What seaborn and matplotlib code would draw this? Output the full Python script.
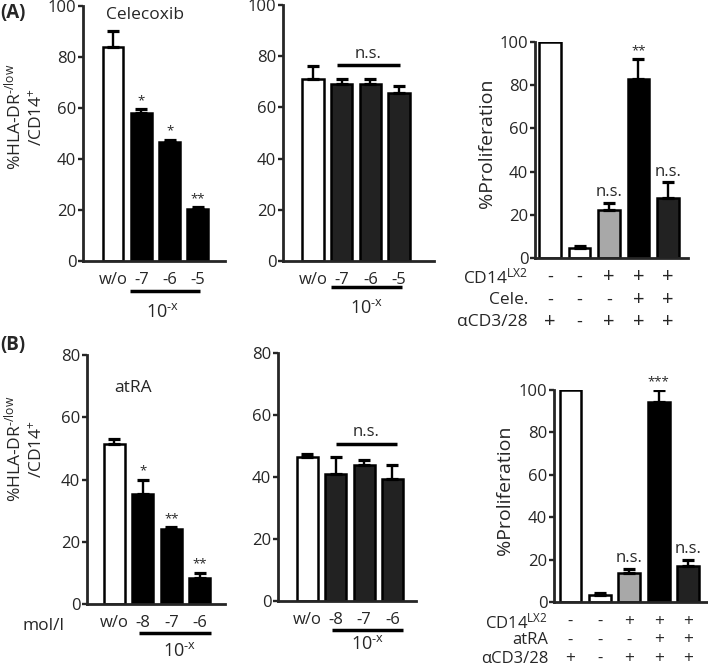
import numpy as np
import pandas as pd
import matplotlib
matplotlib.use("Agg")
import matplotlib.pyplot as plt
import matplotlib.transforms as mtransforms
import seaborn as sns

# ---------------- data ----------------
cele_labels = ["w/o", "-7", "-6", "-5"]
cele_mean = [84, 58, 46.5, 20.5]
cele_err = [6, 1.5, 1.0, 0.6]
cele_sig = ["", "*", "*", "**"]

cele_ctrl_mean = [71, 69, 69, 65.5]
cele_ctrl_err = [5, 2, 2, 3]

prolif_ids = ["c1", "c2", "c3", "c4", "c5"]
cele_prolif_mean = [100, 4.5, 22, 83, 28]
cele_prolif_err = [0, 1.0, 3.5, 9, 7]
cele_prolif_sig = ["", "", "n.s.", "**", "n.s."]

atra_labels = ["w/o", "-8", "-7", "-6"]
atra_mean = [51.5, 35.5, 24, 8.5]
atra_err = [1.5, 4.5, 0.6, 1.5]
atra_sig = ["", "*", "**", "**"]

atra_ctrl_mean = [46.5, 41, 44, 39.5]
atra_ctrl_err = [1.0, 5.5, 1.5, 4.5]

atra_prolif_mean = [100, 3.5, 13.5, 94.5, 17]
atra_prolif_err = [0, 0.7, 2.0, 5.5, 3.0]
atra_prolif_sig = ["", "", "n.s.", "***", "n.s."]

cd14_row = ["-", "-", "+", "+", "+"]
drug_row = ["-", "-", "-", "+", "+"]
cd3_row = ["+", "-", "+", "+", "+"]

dose_colors = ["white", "black", "black", "black"]
ctrl_colors = ["white", "#222222", "#222222", "#222222"]
prolif_colors = ["white", "white", "#a8a8a8", "black", "#222222"]

# ---------------- style ----------------
sns.set_style("ticks")
plt.rcParams["font.family"] = ["Open Sans", "DejaVu Sans"]
plt.rcParams["mathtext.default"] = "regular"

W, H = 708, 669
fig = plt.figure(figsize=(W / 100, H / 100), dpi=100)

HY = "\u2010"  # short hyphen (mathtext would turn '-' into a long minus)


def place(left, top, right, bottom):
    return fig.add_axes([left / W, 1 - bottom / H, (right - left) / W, (bottom - top) / H])


def ftext(px, py, s, **kw):
    fig.text(px / W, 1 - py / H, s, **kw)


def draw(ax, labels, means, errs, colors, ymax, ystep, xlim, sig=None, show_xt=True):
    df = pd.DataFrame({"cond": labels, "val": means})
    sns.barplot(data=df, x="cond", y="val", hue="cond", order=labels, hue_order=labels,
                palette=dict(zip(labels, colors)), legend=False, errorbar=None,
                edgecolor="black", linewidth=1.8, width=0.74, ax=ax)
    idx = [i for i, e in enumerate(errs) if e > 0]
    ax.errorbar(idx, [means[i] for i in idx],
                yerr=[[0] * len(idx), [errs[i] for i in idx]],
                fmt="none", ecolor="black", elinewidth=1.7, capsize=4.2, capthick=2.3, zorder=1)
    if sig is not None:
        for i, s in enumerate(sig):
            if s:
                top = means[i] + errs[i]
                is_star = "*" in s
                ax.annotate(s, xy=(i, top), xytext=(0, 1.5 if is_star else 2),
                            textcoords="offset points", ha="center", va="bottom",
                            fontsize=9.5 if is_star else 12, annotation_clip=False)
    ax.set_ylim(0, ymax)
    ax.set_xlim(*xlim)
    ax.set_yticks(np.arange(0, ymax + 1, ystep))
    ax.set_xlabel("")
    ax.set_ylabel("")
    for sp in ["top", "right"]:
        ax.spines[sp].set_visible(False)
    for sp in ["left", "bottom"]:
        ax.spines[sp].set_linewidth(2.0)
    ax.tick_params(axis="y", length=3.8, width=1.7, pad=1, labelsize=12)
    ax.tick_params(axis="x", length=0, pad=8, labelsize=12)
    if not show_xt:
        ax.set_xticklabels([])


def underline(ax, x0, x1, yfrac):
    tr = mtransforms.blended_transform_factory(ax.transData, ax.transAxes)
    ax.plot([x0, x1], [yfrac, yfrac], color="black", lw=2.5, transform=tr, clip_on=False,
            solid_capstyle="butt")


def ns_bar(ax, x0, x1, y):
    ax.plot([x0, x1], [y, y], color="black", lw=2.5, clip_on=False, solid_capstyle="butt")
    ax.text((x0 + x1) / 2, y + 1.2, "n.s.", ha="center", va="bottom", fontsize=12)


def table(ax, rows, names, offsets, name_dx, fs_name, fs_plus, fs_minus):
    tr = mtransforms.blended_transform_factory(ax.transData, ax.transAxes)
    for row, name, off in zip(rows, names, offsets):
        ax.annotate(name, xy=(0, 0), xycoords="axes fraction", xytext=(name_dx, -off),
                    textcoords="offset pixels", ha="right", va="center", fontsize=fs_name,
                    annotation_clip=False)
        for i, s in enumerate(row):
            ax.annotate(s, xy=(i, 0), xycoords=tr, xytext=(0, -off), textcoords="offset pixels",
                        ha="center", va="center", fontsize=fs_plus if s == "+" else fs_minus,
                        annotation_clip=False)


# ---------------- panel A ----------------
axA1 = place(83, 6, 225, 261)
draw(axA1, cele_labels, cele_mean, cele_err, dose_colors, 100, 20, (-1.06, 3.96), sig=cele_sig)
underline(axA1, 0.6, 3.07, -0.118)

axA2 = place(283, 5, 434, 261)
draw(axA2, cele_labels, cele_ctrl_mean, cele_ctrl_err, ctrl_colors, 100, 20, (-1.05, 4.22))
underline(axA2, 0.63, 3.1, -0.102)
ns_bar(axA2, 0.84, 3.03, 76.6)

axA3 = place(535, 42, 688, 258)
draw(axA3, prolif_ids, cele_prolif_mean, cele_prolif_err, prolif_colors, 100, 20, (-0.51, 4.68),
     sig=cele_prolif_sig, show_xt=False)
table(axA3, [cd14_row, drug_row, cd3_row], ["CD14$^{LX2}$", "Cele.", "αCD3/28"], [19, 42, 64], -7,
      12.5, 14.5, 13)

# ---------------- panel B ----------------
axB1 = place(87, 355, 225, 604)
draw(axB1, atra_labels, atra_mean, atra_err, dose_colors, 80, 20, (-0.96, 3.88), sig=atra_sig)
underline(axB1, 0.88, 3.4, -0.116)

axB2 = place(278, 353, 416, 601)
draw(axB2, atra_labels, atra_ctrl_mean, atra_ctrl_err, ctrl_colors, 80, 20, (-1.04, 3.83))
underline(axB2, 0.87, 3.37, -0.117)
ns_bar(axB2, 1.0, 3.16, 50.6)

axB3 = place(554, 390, 707, 602)
draw(axB3, prolif_ids, atra_prolif_mean, atra_prolif_err, prolif_colors, 100, 20, (-0.56, 4.64),
     sig=atra_prolif_sig, show_xt=False)
table(axB3, [cd14_row, drug_row, cd3_row], ["CD14$^{LX2}$", "atRA", "αCD3/28"], [20, 38.5, 57], -6,
      12, 12.5, 12)

# ---------------- free text ----------------
ylab = "%HLA-DR$^{" + HY + "/low}$\n/CD14$^{+}$"
ftext(24, 117, ylab, rotation=90, ha="center", va="center", fontsize=12.5, linespacing=1.3)
ftext(24, 449, ylab, rotation=90, ha="center", va="center", fontsize=12.5, linespacing=1.3)
ftext(487, 143, "%Proliferation", rotation=90, ha="center", va="center", fontsize=14)
ftext(505, 490, "%Proliferation", rotation=90, ha="center", va="center", fontsize=14)
ftext(145, 15, "Celecoxib", ha="center", va="center", fontsize=12.5)
ftext(133, 388, "atRA", ha="center", va="center", fontsize=12.5)
ftext(0, 13, "(A)", ha="left", va="center", fontsize=13.5, fontweight="bold")
ftext(0, 345, "(B)", ha="left", va="center", fontsize=13.5, fontweight="bold")
ftext(43, 626, "mol/l", ha="center", va="center", fontsize=12.5)
tenx = "10$^{" + HY + "x}$"
ftext(163, 312, tenx, ha="center", va="center", fontsize=13)
ftext(367, 308, tenx, ha="center", va="center", fontsize=13)
ftext(180, 651, tenx, ha="center", va="center", fontsize=13)
ftext(368, 644, tenx, ha="center", va="center", fontsize=13)

fig.savefig("out.png", dpi=100)
